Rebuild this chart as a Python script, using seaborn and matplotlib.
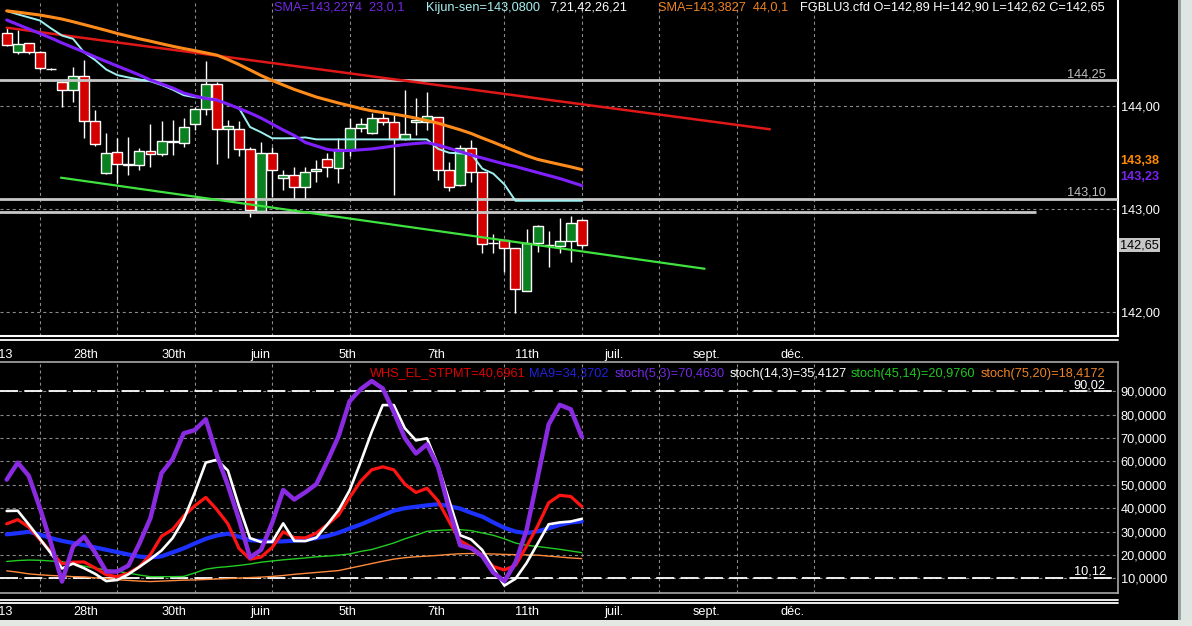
import numpy as np
import matplotlib
matplotlib.use("Agg")
import matplotlib.pyplot as plt
import matplotlib.transforms as mtransforms
from matplotlib import font_manager
from matplotlib.lines import Line2D
from matplotlib.patches import Rectangle
import seaborn as sns

# ---- FGBLU3.cfd candles ----
opens = [144.706, 144.52, 144.61, 144.527, 144.36, 144.236, 144.155, 144.294, 143.854, 143.346,
         143.55, 143.427, 143.427, 143.566, 143.534, 143.663, 143.644, 143.822, 143.968, 144.21,
         143.774, 143.774, 143.58, 142.985, 143.54, 143.30, 143.33, 143.21, 143.37, 143.483,
         143.395, 143.573, 143.783, 143.735, 143.88, 143.847, 143.677, 143.84, 143.847, 143.89,
         143.379, 143.23, 143.595, 143.356, 142.67, 142.70, 142.62, 142.207, 142.667, 142.65,
         142.644, 142.69, 142.89]
highs = [144.76, 144.74, 144.61, 144.53, 144.37, 144.24, 144.38, 144.45, 143.96, 143.735,
         143.686, 143.70, 143.59, 143.83, 143.85, 143.86, 143.88, 143.99, 144.44, 144.236,
         143.86, 143.85, 143.60, 143.653, 143.605, 143.38, 143.41, 143.41, 143.475, 143.54,
         143.686, 143.88, 143.88, 143.93, 143.93, 143.91, 144.155, 144.075, 144.14, 143.89,
         143.46, 143.62, 143.67, 143.36, 142.76, 142.70, 142.62, 142.81, 142.84, 142.79,
         142.91, 142.93, 142.90]
lows = [144.58, 144.50, 144.50, 144.35, 144.35, 143.99, 144.04, 143.69, 143.61, 143.34,
        143.25, 143.33, 143.38, 143.41, 143.51, 143.52, 143.60, 143.77, 143.91, 143.44,
        143.50, 143.51, 142.925, 142.96, 143.12, 143.18, 143.10, 143.10, 143.265, 143.31,
        143.25, 143.51, 143.75, 143.73, 143.82, 143.136, 143.67, 143.72, 143.77, 143.28,
        143.17, 143.22, 143.265, 142.57, 142.57, 142.39, 141.99, 142.20, 142.585, 142.44,
        142.57, 142.49, 142.62]
closes = [144.592, 144.60, 144.52, 144.366, 144.355, 144.155, 144.294, 143.854, 143.628, 143.54,
          143.437, 143.435, 143.566, 143.534, 143.663, 143.65, 143.80, 143.968, 144.21, 143.774,
          143.81, 143.58, 142.99, 143.547, 143.38, 143.33, 143.21, 143.362, 143.385, 143.405,
          143.58, 143.783, 143.822, 143.88, 143.847, 143.677, 143.725, 143.86, 143.903, 143.379,
          143.217, 143.59, 143.356, 142.66, 142.673, 142.62, 142.22, 142.667, 142.838, 142.65,
          142.69, 142.867, 142.65]

kijun = [144.922, 144.890, 144.860, 144.830, 144.754, 144.684, 144.652, 144.521, 144.446, 144.354,
         144.300, 144.277, 144.257, 144.240, 144.204, 144.159, 144.105, 144.085, 144.079, 144.061,
         144.015, 143.980, 143.796, 143.745, 143.687, 143.686, 143.688, 143.695, 143.676, 143.676,
         143.676, 143.676, 143.676, 143.676, 143.676, 143.676, 143.676, 143.676, 143.676, 143.584,
         143.546, 143.540, 143.535, 143.392, 143.343, 143.239, 143.08, 143.08, 143.08, 143.08,
         143.08, 143.08, 143.08]
sma_23 = [144.835, 144.791, 144.748, 144.704, 144.660, 144.612, 144.568, 144.524, 144.476, 144.432,
          144.388, 144.345, 144.301, 144.252, 144.214, 144.175, 144.126, 144.097, 144.073, 144.058,
          144.019, 143.976, 143.932, 143.883, 143.825, 143.767, 143.714, 143.646, 143.612, 143.578,
          143.566, 143.568, 143.575, 143.583, 143.597, 143.612, 143.626, 143.636, 143.644, 143.621,
          143.589, 143.558, 143.524, 143.495, 143.466, 143.437, 143.413, 143.383, 143.354, 143.325,
          143.296, 143.262, 143.2274]
sma_44 = [144.924, 144.911, 144.897, 144.883, 144.864, 144.844, 144.818, 144.790, 144.762, 144.734,
          144.704, 144.678, 144.652, 144.629, 144.604, 144.580, 144.558, 144.538, 144.516, 144.494,
          144.451, 144.403, 144.350, 144.296, 144.248, 144.204, 144.161, 144.124, 144.087, 144.058,
          144.029, 144.003, 143.976, 143.953, 143.937, 143.921, 143.903, 143.882, 143.859, 143.833,
          143.801, 143.769, 143.733, 143.689, 143.648, 143.604, 143.561, 143.518, 143.482, 143.457,
          143.433, 143.409, 143.3827]

red_trend_x = [0.0, 69.0]
red_trend_y = [144.76, 143.774]
green_trend_x = [4.9, 63.1]
green_trend_y = [143.304, 142.42]

levels_full = [144.25, 143.10]
level_full_labels = ["144,25", "143,10"]
level_short = 142.97
level_short_end = 93.1

# ---- oscillators ----
whs_stpmt = [33.3, 35.1, 31.9, 26.6, 21.3, 16.2, 16.9, 17.0, 14.4, 11.5,
             10.7, 12.2, 14.9, 20.2, 28.0, 30.9, 36.6, 41.0, 44.6, 39.4,
             33.3, 22.8, 18.2, 19.1, 23.2, 29.9, 27.4, 27.3, 29.3, 33.0,
             37.0, 44.5, 51.5, 56.4, 57.7, 56.4, 50.3, 46.7, 48.5, 43.1,
             34.3, 26.1, 23.3, 19.9, 15.0, 13.6, 15.5, 23.6, 32.3, 42.3,
             45.5, 45.0, 40.6961]
ma9 = [28.8, 29.3, 29.9, 28.7, 27.2, 26.0, 25.1, 24.2, 23.2, 22.2,
       21.2, 20.2, 19.3, 18.9, 19.4, 21.1, 22.8, 24.9, 26.9, 28.3,
       29.1, 27.8, 26.3, 26.0, 25.7, 25.8, 26.1, 26.4, 27.2, 28.1,
       29.5, 31.3, 33.0, 35.0, 37.0, 38.9, 40.0, 40.6, 41.2, 41.7,
       40.9, 39.8, 38.0, 36.4, 33.9, 31.6, 30.0, 29.3, 30.1, 31.4,
       32.8, 33.9, 34.3702]
stoch_5_3 = [52.2, 59.5, 53.8, 40.1, 25.1, 8.6, 23.6, 27.8, 21.0, 12.9,
             12.9, 15.4, 24.9, 35.8, 55.0, 61.0, 72.0, 73.4, 78.0, 62.6,
             49.7, 35.2, 18.9, 22.2, 33.7, 47.8, 43.7, 46.8, 50.3, 60.1,
             70.7, 85.7, 90.9, 94.4, 91.2, 81.2, 70.0, 63.4, 67.3, 57.7,
             39.6, 24.1, 22.9, 19.5, 12.4, 8.8, 16.7, 30.5, 52.9, 75.8,
             84.2, 82.3, 70.463]
stoch_14_3 = [38.8, 38.9, 33.0, 26.9, 20.7, 14.2, 16.3, 14.3, 11.9, 8.8,
              9.3, 11.7, 14.9, 18.2, 21.9, 27.2, 35.1, 46.7, 59.5, 60.7,
              56.1, 40.9, 27.2, 25.5, 25.6, 33.5, 26.0, 25.9, 27.4, 33.1,
              39.1, 47.6, 59.7, 72.6, 84.1, 84.1, 74.2, 69.0, 69.9, 58.3,
              43.4, 28.4, 26.6, 22.1, 14.2, 6.9, 9.8, 16.5, 24.8, 33.1,
              33.9, 34.3, 35.4127]
stoch_45_14 = [17.2, 17.6, 17.8, 17.7, 17.4, 17.1, 16.1, 15.2, 14.3, 13.6,
               13.0, 12.2, 11.4, 10.7, 10.7, 10.7, 10.8, 12.3, 13.9, 14.6,
               15.0, 15.5, 16.1, 16.9, 17.4, 17.9, 18.3, 18.7, 19.2, 19.5,
               19.9, 20.4, 21.5, 22.3, 23.7, 25.1, 26.9, 28.4, 30.1, 30.5,
               30.7, 30.8, 30.4, 29.4, 28.4, 26.9, 25.1, 24.1, 23.6, 23.0,
               22.4, 21.7, 20.976]
stoch_75_20 = [13.2, 12.6, 11.9, 11.5, 11.2, 11.0, 10.7, 10.6, 10.2, 9.9,
               9.4, 9.1, 8.8, 8.6, 8.8, 9.0, 9.2, 9.3, 9.5, 9.7,
               9.9, 10.1, 10.3, 10.5, 10.8, 11.2, 11.7, 12.1, 12.5, 12.9,
               13.3, 14.3, 15.3, 16.3, 17.3, 18.2, 18.8, 19.2, 19.5, 19.8,
               20.2, 20.5, 20.6, 20.5, 20.4, 20.2, 20.1, 20.0, 19.9, 19.5,
               19.1, 18.7, 18.4172]
osc_levels = [90.02, 10.12]
osc_level_labels = ["90,02", "10,12"]

date_pos = [6, 14, 22, 30, 38, 46, 54, 62, 70]
date_labels = ["28th", "30th", "juin", "5th", "7th", "11th", "juil.", "sept.", "déc."]
first_date_pos = -2
first_date_label = "2013"

price_ticks = [142, 143, 144]
osc_ticks = [10, 20, 30, 40, 50, 60, 70, 80, 90]

# ---- style ----
sns.set_theme(style="dark", rc={"axes.facecolor": "black", "figure.facecolor": "black",
                                "lines.scale_dashes": False})
avail = {f.name for f in font_manager.fontManager.ttflist}
if "Liberation Sans Narrow" in avail:
    FONT, FS = "Liberation Sans Narrow", 11
else:
    FONT, FS = "Liberation Sans", 9.2
plt.rcParams["font.family"] = [FONT, "DejaVu Sans"]

W, H = 1192, 626
RED = "#d40000"
GREEN = "#0a8020"
GRID = dict(color="#8a8a8a", lw=0.8, ls=(0, (2.2, 2.2)))


def px_box(x0, y0, x1, y1):
    return [x0 / W, 1 - y1 / H, (x1 - x0) / W, (y1 - y0) / H]


def ftext(xpx, ypx, s, color, **kw):
    fig.text(xpx / W, 1 - ypx / H, s, color=color, fontsize=FS, va="baseline", ha="left", **kw)


fig = plt.figure(figsize=(W / 100, H / 100), dpi=100, facecolor="black")
ax1 = fig.add_axes(px_box(0, 0, 1118, 335.5))
ax2 = fig.add_axes(px_box(0, 362, 1118, 593))

idx = np.arange(len(opens))
grid_pos = np.arange(3, 74, 7)

# ---- price panel ----
o, h, l, c = map(np.array, (opens, highs, lows, closes))
ax1.vlines(idx, l, h, color="white", lw=1, zorder=3)
ax1.bar(idx, np.maximum(np.abs(c - o), 0.004), bottom=np.minimum(o, c), width=0.9,
        color=np.where(c >= o, GREEN, RED), edgecolor="white", linewidth=1, zorder=4)

for lv in levels_full:
    ax1.axhline(lv, color="#c8c8c8", lw=2, zorder=4.5)
ax1.hlines(level_short, -1, level_short_end, color="#c8c8c8", lw=2, zorder=4.5)

sns.lineplot(x=red_trend_x, y=red_trend_y, ax=ax1, color="#e01818", lw=1.8, zorder=5)
sns.lineplot(x=green_trend_x, y=green_trend_y, ax=ax1, color="#3fe23f", lw=1.6, zorder=5)
sns.lineplot(x=idx, y=kijun, ax=ax1, color="#9ff0f0", lw=1.4, zorder=6)
sns.lineplot(x=idx, y=sma_44, ax=ax1, color="#ff8c1a", lw=2.2, zorder=6)
sns.lineplot(x=idx, y=sma_23, ax=ax1, color="#8020ff", lw=2.2, zorder=7)

ax1.set_xlim(-0.606, 100.48)
ax1.set_ylim(141.772, 145.029)

blend1 = mtransforms.blended_transform_factory(ax1.transAxes, ax1.transData)
for lv, lab in zip(levels_full, level_full_labels):
    ax1.text(0.989, lv + 0.027, lab, transform=blend1, ha="right", va="baseline",
             color="#c0c0c0", fontsize=FS)
ax1.text(1.0018, sma_44[-1] + 0.088, "143,38", transform=blend1, ha="left", va="center",
         color="#ff8c00", fontsize=FS, fontweight="bold", clip_on=False)
ax1.text(1.0018, sma_23[-1] + 0.088, "143,23", transform=blend1, ha="left", va="center",
         color="#7b22f0", fontsize=FS, fontweight="bold", clip_on=False)
ax1.text(1.0018, closes[-1], "142,65", transform=blend1, ha="left", va="center",
         color="black", fontsize=FS, clip_on=False,
         bbox=dict(facecolor="#c6c6c6", edgecolor="none", pad=1))

# ---- oscillator panel ----
ax2.axhline(osc_levels[0], color="white", lw=1.3, ls=(0, (13, 4.5)), zorder=2)
ax2.axhline(osc_levels[1], color="white", lw=1.3, ls=(0, (13, 4.5)), zorder=2)
osc_styles = [
    (stoch_75_20, "#ff8a3d", 1.0),
    (stoch_45_14, "#22cc22", 1.0),
    (ma9, "#1e32ff", 3.0),
    (whs_stpmt, "#ff1414", 2.3),
    (stoch_14_3, "white", 1.9),
    (stoch_5_3, "#8a2be2", 3.2),
]
for z, (vals, col, lw) in enumerate(osc_styles):
    sns.lineplot(x=idx, y=vals, ax=ax2, color=col, lw=lw, zorder=3 + z)

ax2.set_xlim(-0.606, 100.48)
ax2.set_ylim(3.71, 102.53)
blend2 = mtransforms.blended_transform_factory(ax2.transAxes, ax2.transData)
for lv, lab in zip(osc_levels, osc_level_labels):
    ax2.text(0.989, lv + 1.3, lab, transform=blend2, ha="right", va="baseline",
             color="white", fontsize=FS)

# ---- axes cosmetics ----
for ax, yt, fmt in ((ax1, price_ticks, "{:.2f}"), (ax2, osc_ticks, "{:.4f}")):
    ax.set_xlabel("")
    ax.set_ylabel("")
    ax.yaxis.tick_right()
    ax.set_yticks(yt)
    ax.set_yticklabels([fmt.format(v).replace(".", ",") for v in yt])
    ax.set_xticks(date_pos)
    ax.set_xticklabels(date_labels, ha="left")
    ax.set_xticks(grid_pos, minor=True)
    ax.tick_params(axis="both", which="both", length=0, colors="white", labelsize=FS)
    ax.tick_params(axis="y", pad=2)
    ax.tick_params(axis="x", pad=9.5)
    ax.grid(False)
    ax.grid(True, which="minor", axis="x", **GRID)
    ax.grid(True, which="major", axis="y", **GRID)
    ax.set_axisbelow(True)
    ax.spines["left"].set_visible(False)
    ax.spines["top"].set_visible(False)
    ax.annotate(first_date_label, xy=(first_date_pos, 0), xycoords=("data", "axes fraction"),
                xytext=(0, -9.5), textcoords="offset points", ha="left", va="top",
                color="white", fontsize=FS, annotation_clip=False)

for s in ("right", "bottom"):
    ax1.spines[s].set_color("white")
    ax1.spines[s].set_linewidth(1.5)
for s in ("right", "bottom", "top"):
    ax2.spines[s].set_visible(True)
    ax2.spines[s].set_color("#a8a8a8")
    ax2.spines[s].set_linewidth(1.2)

# frame lines and window chrome
for ypx in (340, 600, 603):
    fig.add_artist(Line2D([0, 1118 / W], [1 - ypx / H] * 2, color="white", lw=1.3))
fig.add_artist(Rectangle((1178 / W, 0), 14 / W, 1, transform=fig.transFigure,
                         facecolor="#dde6e2", edgecolor="none"))
fig.add_artist(Rectangle((1178 / W, 0), 3 / W, 1, transform=fig.transFigure,
                         facecolor="#98a29e", edgecolor="none"))
fig.add_artist(Rectangle((0, 0), 1, 6 / H, transform=fig.transFigure,
                         facecolor="#e4e8e4", edgecolor="none"))

# header texts
ftext(273.6, 10.5, "SMA=143,2274  23,0,1", "#7428e6")
ftext(426, 10.5, "Kijun-sen=143,0800", "#a8f2f2")
ftext(549, 10.5, "7,21,42,26,21", "white")
ftext(658.5, 10.5, "SMA=143,3827  44,0,1", "#f08424")
ftext(800, 10.5, "FGBLU3.cfd O=142,89 H=142,90 L=142,62 C=142,65", "white")

ftext(370, 376.5, "WHS_EL_STPMT=40,6961", "#e00000")
ftext(529, 376.5, "MA9=34,3702", "#2020e0")
ftext(615, 376.5, "stoch(5,3)=70,4630", "#7428e6")
ftext(729.5, 376.5, "stoch(14,3)=35,4127", "white")
ftext(851, 376.5, "stoch(45,14)=20,9760", "#22c822")
ftext(980.5, 376.5, "stoch(75,20)=18,4172", "#f08424")

fig.savefig("out.png", dpi=100, facecolor="black")
